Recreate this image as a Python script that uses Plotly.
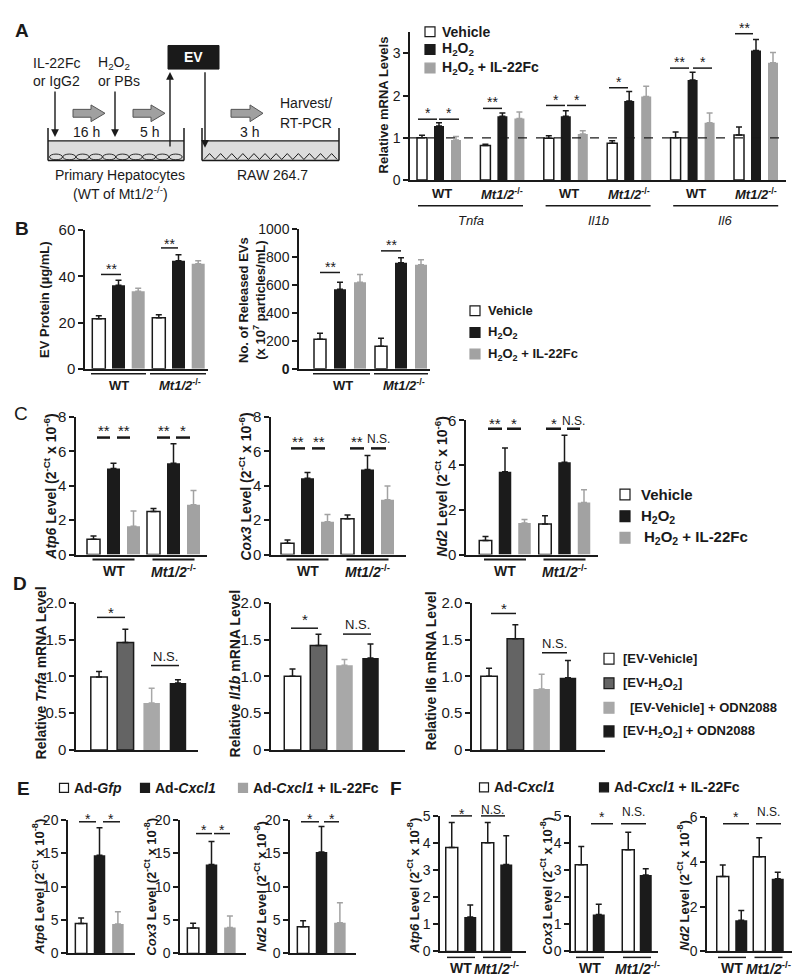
import plotly.graph_objects as go

# ======================= DATA =======================
genotypes = ["WT", "Mt1/2-/-"]
treat3 = ["Vehicle", "H2O2", "H2O2 + IL-22Fc"]

# Panel A: RAW 264.7 cytokine mRNA
a_genes = ["Tnfa", "Il1b", "Il6"]
a_groups = ["Tnfa WT", "Tnfa Mt1/2-/-", "Il1b WT", "Il1b Mt1/2-/-", "Il6 WT", "Il6 Mt1/2-/-"]
a_vehicle = [1.00, 0.82, 0.99, 0.87, 1.00, 1.07]
a_vehicle_err = [0.06, 0.03, 0.06, 0.06, 0.14, 0.19]
a_h2o2 = [1.28, 1.51, 1.51, 1.87, 2.37, 3.07]
a_h2o2_err = [0.08, 0.08, 0.13, 0.23, 0.18, 0.26]
a_il22 = [0.95, 1.46, 1.09, 1.98, 1.36, 2.78]
a_il22_err = [0.08, 0.15, 0.08, 0.24, 0.23, 0.24]

# Panel B
b_prot_vehicle = [21.7, 22.1]; b_prot_vehicle_err = [1.3, 1.3]
b_prot_h2o2 = [36.2, 46.8];    b_prot_h2o2_err = [2.1, 2.6]
b_prot_il22 = [33.6, 45.5];    b_prot_il22_err = [1.3, 1.3]
b_ev_vehicle = [211, 162];     b_ev_vehicle_err = [43, 56]
b_ev_h2o2 = [570, 760];        b_ev_h2o2_err = [50, 36]
b_ev_il22 = [620, 746];        b_ev_il22_err = [56, 36]

# Panel C (2^-Ct x 10^-6)
c_atp6_vehicle = [0.88, 2.50]; c_atp6_vehicle_err = [0.20, 0.18]
c_atp6_h2o2 = [5.00, 5.30];    c_atp6_h2o2_err = [0.30, 1.14]
c_atp6_il22 = [1.65, 2.90];    c_atp6_il22_err = [0.88, 0.82]
c_cox3_vehicle = [0.65, 2.08]; c_cox3_vehicle_err = [0.20, 0.22]
c_cox3_h2o2 = [4.43, 4.95];    c_cox3_h2o2_err = [0.34, 0.80]
c_cox3_il22 = [1.90, 3.18];    c_cox3_il22_err = [0.42, 0.80]
c_nd2_vehicle = [0.63, 1.36];  c_nd2_vehicle_err = [0.18, 0.37]
c_nd2_h2o2 = [3.70, 4.13];     c_nd2_h2o2_err = [1.06, 1.20]
c_nd2_il22 = [1.41, 2.33];     c_nd2_il22_err = [0.16, 0.57]

# Panel D
d_series = ["[EV-Vehicle]", "[EV-H2O2]", "[EV-Vehicle] + ODN2088", "[EV-H2O2] + ODN2088"]
d_tnfa = [0.99, 1.46, 0.64, 0.91]; d_tnfa_err = [0.075, 0.18, 0.20, 0.045]
d_il1b = [1.00, 1.42, 1.15, 1.25]; d_il1b_err = [0.10, 0.15, 0.08, 0.19]
d_il6 = [1.00, 1.51, 0.83, 0.98];  d_il6_err = [0.11, 0.19, 0.20, 0.235]

# Panel E (2^-Ct x 10^-8)
e_series = ["Ad-Gfp", "Ad-Cxcl1", "Ad-Cxcl1 + IL-22Fc"]
e_atp6 = [4.5, 14.7, 4.4];  e_atp6_err = [0.8, 4.1, 1.85]
e_cox3 = [3.8, 13.3, 3.9];  e_cox3_err = [0.73, 3.45, 1.7]
e_nd2 = [4.0, 15.2, 4.6];   e_nd2_err = [0.88, 3.8, 3.0]

# Panel F (2^-Ct x 10^-8)
f_series = ["Ad-Cxcl1", "Ad-Cxcl1 + IL-22Fc"]
f_atp6_cxcl1 = [3.83, 4.01]; f_atp6_cxcl1_err = [0.93, 0.75]
f_atp6_il22 = [1.27, 3.21];  f_atp6_il22_err = [0.44, 1.06]
f_cox3_cxcl1 = [3.20, 3.75]; f_cox3_cxcl1_err = [0.67, 0.65]
f_cox3_il22 = [1.36, 2.82];  f_cox3_il22_err = [0.38, 0.23]
f_nd2_cxcl1 = [3.34, 4.22];  f_nd2_cxcl1_err = [0.51, 0.85]
f_nd2_il22 = [1.39, 3.24];   f_nd2_il22_err = [0.44, 0.29]

# ======================= STYLE / LAYOUT HELPERS =======================
W, H = 800, 979
FONT = "Liberation Sans, Arial, sans-serif"
NARROW = "Liberation Sans Narrow, Arial Narrow, Liberation Sans, sans-serif"
INK = "#1a1a1a"
WHITE = "#ffffff"
BLACK = "#1b1b1b"
GRAY = "#a2a2a2"
DGRAY = "#646464"
LGRAY = "#a8a8a8"

fig = go.Figure()
shapes, annots = [], []


def X(px):
    return px / W


def Y(py):
    return 1 - py / H


def line(x0, y0, x1, y1, w=1.5, color=INK, dash="solid"):
    shapes.append(dict(type="line", xref="paper", yref="paper", x0=X(x0), y0=Y(y0),
                       x1=X(x1), y1=Y(y1), line=dict(color=color, width=w, dash=dash)))


def rect(x0, y0, x1, y1, fill, lc=INK, lw=1.2):
    shapes.append(dict(type="rect", xref="paper", yref="paper", x0=X(x0), y0=Y(y0),
                       x1=X(x1), y1=Y(y1), fillcolor=fill, line=dict(color=lc, width=lw)))


def path(points, fill=None, lc=INK, lw=1.2, close=True):
    d = "M " + " L ".join(f"{X(x):.5f},{Y(y):.5f}" for x, y in points)
    if close:
        d += " Z"
    s = dict(type="path", xref="paper", yref="paper", path=d, line=dict(color=lc, width=lw))
    if fill:
        s["fillcolor"] = fill
    shapes.append(s)


def ellipse(x0, y0, x1, y1, lc=INK, lw=1.0):
    shapes.append(dict(type="circle", xref="paper", yref="paper", x0=X(x0), y0=Y(y0),
                       x1=X(x1), y1=Y(y1), line=dict(color=lc, width=lw)))


def text(x, y, s, size=13, family=FONT, color=INK, xa="center", ya="middle", angle=0):
    annots.append(dict(x=X(x), y=Y(y), xref="paper", yref="paper", text=s, showarrow=False,
                       xanchor=xa, yanchor=ya, textangle=angle,
                       font=dict(family=family, size=size, color=color)))


def arrow(xh, yh, xt, yt):
    annots.append(dict(x=X(xh), y=Y(yh), xref="paper", yref="paper", ax=xt - xh, ay=yt - yh,
                       text="", showarrow=True, arrowhead=2, arrowsize=1.1, arrowwidth=1.4,
                       arrowcolor=INK))


def sig(x0, x1, yl, label, yt, lw=1.5, size=14, family=FONT, ns_size=None):
    line(x0, yl, x1, yl, w=lw)
    star = "*" in label
    off = 4 if star else 1
    fs = size if star else (ns_size or size - 2)
    text((x0 + x1) / 2, yt + off, label, size=fs, family=family)


def ser(name, y, err, fill, lc, lw, ec):
    return dict(name=name, y=y, err=err, fill=fill, line=lc, lw=lw, ec=ec)


def add_bars(i, cats, series, g):
    xa = "x" if i == 1 else f"x{i}"
    ya = "y" if i == 1 else f"y{i}"
    key = "" if i == 1 else str(i)
    n = len(series)
    unit = g["step"]
    for k, s in enumerate(series):
        c = (k - (n - 1) / 2) * g["pitch"]
        fig.add_trace(go.Bar(
            x=cats, y=s["y"], name=s["name"], xaxis=xa, yaxis=ya,
            width=g["bw"] / unit, offset=(c - g["bw"] / 2) / unit,
            marker=dict(color=s["fill"], line=dict(color=s["line"], width=s["lw"])),
            error_y=dict(type="data", symmetric=False, array=s["err"],
                         arrayminus=[0] * len(s["y"]), color=s["ec"], thickness=1.5, width=3),
            showlegend=False, hoverinfo="skip"))
    r0 = (g["left"] - g["c0"]) / unit
    r1 = (g["right"] - g["c0"]) / unit
    fig.layout[f"xaxis{key}"] = dict(
        domain=[X(g["left"]), X(g["right"])], anchor=ya, type="category",
        categoryorder="array", categoryarray=cats, range=[r0, r1],
        showline=True, linecolor=INK, linewidth=1.5, ticks="", showticklabels=False,
        showgrid=False, zeroline=False, fixedrange=True)
    fig.layout[f"yaxis{key}"] = dict(
        domain=[Y(g["y0"]), Y(g["ytop"])], anchor=xa, range=[0, g["ymax"]],
        tickmode="array", tickvals=g["tv"], ticktext=g["tt"],
        tickfont=dict(family=g.get("font", FONT), size=g.get("fs", 14), color=INK),
        showline=True, linecolor=INK, linewidth=1.5, ticks="outside", ticklen=5,
        tickwidth=1.5, tickcolor=INK, showgrid=False, zeroline=False, fixedrange=True)


def three(vals, errs):
    (v0, v1, v2), (e0, e1, e2) = vals, errs
    return [ser(treat3[0], v0, e0, WHITE, INK, 1.5, INK),
            ser(treat3[1], v1, e1, BLACK, BLACK, 0, INK),
            ser(treat3[2], v2, e2, GRAY, GRAY, 0, GRAY)]


MT = "<i>Mt1/2</i><sup>-/-</sup>"
H2O2 = "H<sub>2</sub>O<sub>2</sub>"

# ======================= PANEL A =======================
text(14, 14, "<b>A</b>", size=19)
# schematic
text(23, 47, "IL-22Fc", 14, xa="left"); text(23, 65, "or IgG2", 14, xa="left")
text(88, 47, H2O2, 14, xa="left"); text(88, 65, "or PBs", 14, xa="left")
text(270, 88, "Harvest/", 14, xa="left"); text(270, 108, "RT-PCR", 14, xa="left")
text(78, 117, "16 h", 14); text(141, 117, "5 h", 14); text(241, 117, "3 h", 14)
text(112, 161, "Primary Hepatocytes", 14)
text(112, 179, "(WT of Mt1/2<sup>-/-</sup>)", 14)
text(264, 161, "RAW 264.7", 14)
rect(160, 29, 211, 53, INK, INK, 1)
text(185.5, 41, "<b>EV</b>", 14, color="#ffffff")
arrow(47, 122, 47, 75)
arrow(107, 122, 107, 75)
arrow(162, 56, 162, 132)
arrow(197, 133, 197, 56)
for xs, xh, xe in [(65, 83, 97), (125, 143, 157), (223, 242, 255)]:
    yc = 98
    path([(xs, yc - 4), (xh, yc - 4), (xh, yc - 8.5), (xe, yc), (xh, yc + 8.5),
          (xh, yc + 4), (xs, yc + 4)], fill="#a0a0a0", lc="#555555", lw=1)
for dx0, dx1 in [(40, 176), (194, 331)]:
    rect(dx0, 126, dx1, 146, "#dcdcdc", "#dcdcdc", 0)
    line(dx0, 126, dx1, 126, w=1.2)
    line(dx0, 113, dx0, 146, w=1.5)
    line(dx1, 113, dx1, 146, w=1.5)
    line(dx0, 146, dx1, 146, w=1.5)
for k in range(10):
    ex = 41.5 + k * 13.3
    ellipse(ex, 139.5, ex + 13.0, 145.3, lw=0.9)
zz = []
for k in range(12):
    tx = 196 + k * 11.1
    zz += [(tx, 145), (tx + 5.55, 139)]
zz.append((196 + 12 * 11.1, 145))
path(zz, lc=INK, lw=1, close=False)

gA = dict(left=402, right=778, y0=166, ytop=15.5, ymax=3.5, c0=431, step=63.4, pitch=17,
          bw=10, tv=[0, 1, 2, 3], tt=["0", "1", "2", "3"], fs=14)
add_bars(1, a_groups, three([a_vehicle, a_h2o2, a_il22],
                            [a_vehicle_err, a_h2o2_err, a_il22_err]), gA)
shapes.append(dict(type="line", xref="paper", yref="y", x0=X(402), x1=X(778), y0=1, y1=1,
                   line=dict(color=INK, width=1.3, dash="dash")))
text(375, 90, "<b>Relative mRNA Levels</b>", 13, angle=-90)
for k, gname in enumerate(a_groups):
    cx = 431 + k * 63.4
    text(cx + (3 if k % 2 == 0 else 0), 180, "<b>WT</b>" if k % 2 == 0 else "<b>" + MT + "</b>", 13)
for k, gene in enumerate(a_genes):
    x0 = 410 + k * 127.6
    line(x0, 192, x0 + 105, 192, w=1.5)
    text(x0 + 52.5, 207, f"<i>{gene}</i>", 13)
for x0, x1, yl, lab, yt in [(410, 429, 104, "*", 94), (431, 451, 104, "*", 94),
                            (475, 494, 93, "**", 82), (538, 557, 90, "*", 80),
                            (559, 578, 90, "*", 80), (601, 620, 72, "*", 62),
                            (662, 681, 52, "**", 42), (685, 704, 52, "*", 42),
                            (727, 745, 17, "**", 7)]:
    sig(x0, x1, yl, lab, yt)
for yy, fill, lab in [(15, WHITE, "Vehicle"), (33, BLACK, H2O2), (52, GRAY, H2O2 + " + IL-22Fc")]:
    rect(417, yy - 5, 427, yy + 5, fill, INK if fill == WHITE else fill, 1.2)
    text(432, yy, f"<b>{lab}</b>", 14, xa="left")

# ======================= PANEL B =======================
text(14, 215, "<b>B</b>", size=19)
gBl = dict(left=77, right=200, y0=358, ytop=217, ymax=60, c0=110.5, step=60, pitch=19.7,
           bw=13, tv=[0, 20, 40, 60], tt=["0", "20", "40", "60"], fs=15)
add_bars(2, genotypes, three([b_prot_vehicle, b_prot_h2o2, b_prot_il22],
                             [b_prot_vehicle_err, b_prot_h2o2_err, b_prot_il22_err]), gBl)
gBr = dict(left=291, right=422, y0=358, ytop=216, ymax=1000, c0=332, step=61, pitch=20,
           bw=12, tv=[0, 200, 400, 600, 800, 1000],
           tt=["<b>0</b>", "200", "400", "600", "800", "1000"], fs=14)
add_bars(3, genotypes, three([b_ev_vehicle, b_ev_h2o2, b_ev_il22],
                             [b_ev_vehicle_err, b_ev_h2o2_err, b_ev_il22_err]), gBr)
text(37, 288, "<b>EV Protein (µg/mL)</b>", 13, angle=-90)
text(244, 288, "<b>No. of Released EVs<br>(x 10<sup>7</sup> particles/mL)</b>", 13, angle=-90)
for (a0, a1) in [(83, 138), (142, 198), (305, 362), (366, 420)]:
    line(a0, 363, a1, 363, w=1.5)
for cx, lab in [(110.5, "WT"), (172, MT), (335, "WT"), (396, MT)]:
    text(cx, 375, f"<b>{lab}</b>", 13)
for x0, x1, yl, lab, yt in [(93, 113, 262, "**", 252), (153, 170, 235, "**", 227),
                            (312, 332, 260, "**", 250), (373, 393, 238, "**", 228)]:
    sig(x0, x1, yl, lab, yt)
for yy, fill, lab in [(299, WHITE, "Vehicle"), (321, BLACK, H2O2), (343, GRAY, H2O2 + " + IL-22Fc")]:
    rect(462, yy - 5, 472, yy + 5, fill, INK if fill == WHITE else fill, 1.2)
    text(478, yy, f"<b>{lab}</b>", 13, xa="left")

# ======================= PANEL C =======================
text(13, 403, "C", size=19, family=NARROW)
base_c = dict(y0=547, step=60, pitch=20, bw=13, font=NARROW, fs=15)
gC1 = dict(base_c, left=68, right=199, ytop=407, ymax=8, c0=105.5,
           tv=[0, 2, 4, 6, 8], tt=["0", "2", "4", "6", "8"])
gC2 = dict(base_c, left=263, right=398, ytop=407, ymax=8, c0=299.5,
           tv=[0, 2, 4, 6, 8], tt=["0", "2", "4", "6", "8"])
gC3 = dict(base_c, left=458, right=590, ytop=410.5, ymax=6, c0=497, step=59.5, pitch=19.5,
           bw=12.5, tv=[0, 2, 4, 6], tt=["0", "2", "4", "6"])
add_bars(4, genotypes, three([c_atp6_vehicle, c_atp6_h2o2, c_atp6_il22],
                             [c_atp6_vehicle_err, c_atp6_h2o2_err, c_atp6_il22_err]), gC1)
add_bars(5, genotypes, three([c_cox3_vehicle, c_cox3_h2o2, c_cox3_il22],
                             [c_cox3_vehicle_err, c_cox3_h2o2_err, c_cox3_il22_err]), gC2)
add_bars(6, genotypes, three([c_nd2_vehicle, c_nd2_h2o2, c_nd2_il22],
                             [c_nd2_vehicle_err, c_nd2_h2o2_err, c_nd2_il22_err]), gC3)
for xc, gene in [(42, "Atp6"), (237, "Cox3"), (433, "Nd2")]:
    text(xc, 478, f"<b><i>{gene}</i> Level (2<sup>-Ct</sup> x 10<sup>-6</sup>)</b>", 14, angle=-90)
for g in (gC1, gC2, gC3):
    for k, lab in enumerate(["WT", MT]):
        cx = g["c0"] + k * g["step"]
        line(cx - 21, 552, cx + 21, 552, w=2)
        text(cx, 564, f"<b>{lab}</b>", 14, family=NARROW)
for x0, x1, yl, lab, yt in [(89, 102, 428, "**", 417), (109, 122, 428, "**", 417),
                            (149, 162, 428, "**", 417), (168, 182, 428, "*", 417),
                            (283, 297, 439, "**", 428), (304, 317, 439, "**", 428),
                            (342, 356, 439, "**", 428), (363, 378, 439, "N.S.", 428),
                            (480, 494, 419, "**", 410), (499, 513, 419, "*", 410),
                            (538, 553, 419, "*", 410), (559, 572, 419, "N.S.", 410)]:
    sig(x0, x1, yl, lab, yt, lw=2.5, size=15, family=NARROW, ns_size=12)
for yy, fill, lab in [(486, WHITE, "Vehicle"), (508, BLACK, H2O2), (530, GRAY, H2O2 + " + IL-22Fc")]:
    rect(612, yy - 5.5, 622, yy + 5.5, fill, INK if fill == WHITE else fill, 1.2)
    text(631 if fill != GRAY else 634, yy, f"<b>{lab}</b>", 15, family=NARROW, xa="left")

# ======================= PANEL D =======================
text(12, 577, "<b>D</b>", size=19)
base_d = dict(y0=746, ytop=596, ymax=2, step=100, pitch=26.3, bw=16.5, font=NARROW, fs=15,
              tv=[0, 0.5, 1, 1.5, 2], tt=["0", "0.5", "1.0", "1.5", "2.0"])


def four(vals, errs):
    fills = [(WHITE, INK, 1.5, INK), (DGRAY, INK, 1.5, INK), (LGRAY, LGRAY, 0, LGRAY),
             (BLACK, BLACK, 0, INK)]
    return [ser(d_series[k], [vals[k]], [errs[k]], *fills[k]) for k in range(4)]


add_bars(7, ["Tnfa"], four(d_tnfa, d_tnfa_err), dict(base_d, left=68, right=190, c0=130.5))
add_bars(8, ["Il1b"], four(d_il1b, d_il1b_err), dict(base_d, left=263, right=397, c0=323.5, pitch=26))
add_bars(9, ["Il6"], four(d_il6, d_il6_err), dict(base_d, left=464, right=597, c0=520.5))
text(33, 668, "<b>Relative <i>Tnfa</i> mRNA Level</b>", 14, angle=-90)
text(227, 668, "<b>Relative <i>Il1b</i> mRNA Level</b>", 14, angle=-90)
text(423, 666, "<b>Relative Il6 mRNA Level</b>", 14, angle=-90)
for x0, x1, yl, lab, yt in [(89, 117, 611, "*", 602), (143, 171, 660, "N.S.", 650),
                            (283, 310, 622, "*", 609), (335, 363, 628, "N.S.", 617),
                            (483, 508, 607, "*", 598), (534, 559, 647, "N.S.", 637)]:
    sig(x0, x1, yl, lab, yt, lw=1.5, size=15, family=NARROW, ns_size=13)
d_leg = [(653, WHITE, INK, "[EV-Vehicle]", 613),
         (678, DGRAY, INK, "[EV-H<sub>2</sub>O<sub>2</sub>]", 613),
         (703, LGRAY, LGRAY, "[EV-Vehicle] + ODN2088", 620),
         (727, BLACK, BLACK, "[EV-H<sub>2</sub>O<sub>2</sub>] + ODN2088", 613)]
for yy, fill, lc, lab, tx in d_leg:
    rect(596, yy - 5.5, 606, yy + 5.5, fill, lc, 1.2)
    text(tx, yy, f"<b>{lab}</b>", 13, family=NARROW, xa="left")

# ======================= PANEL E =======================
text(15, 785, "<b>E</b>", size=19)
base_e = dict(y0=953, ytop=817, ymax=20, step=100, pitch=18.4, bw=11.5, fs=14,
              tv=[0, 5, 10, 15, 20], tt=["0", "5", "10", "15", "20"])


def three1(vals, errs):
    fills = [(WHITE, INK, 1.5, INK), (BLACK, BLACK, 0, INK), (GRAY, GRAY, 0, GRAY)]
    return [ser(e_series[k], [vals[k]], [errs[k]], *fills[k]) for k in range(3)]


add_bars(10, ["Atp6"], three1(e_atp6, e_atp6_err), dict(base_e, left=60, right=127, c0=91.5))
add_bars(11, ["Cox3"], three1(e_cox3, e_cox3_err), dict(base_e, left=172, right=238, c0=203.5))
add_bars(12, ["Nd2"], three1(e_nd2, e_nd2_err), dict(base_e, left=282, right=348, c0=313.5))
for xc, gene in [(30, "Atp6"), (142, "Cox3"), (252, "Nd2")]:
    text(xc, 885, f"<b><i>{gene}</i> Level (2<sup>-Ct</sup> x 10<sup>-8</sup>)</b>", 13, angle=-90)
for x0, x1, yl, lab, yt in [(71, 88, 819, "*", 812), (95, 112, 819, "*", 812),
                            (188, 204, 831, "*", 823), (206, 222, 831, "*", 823),
                            (293, 311, 819, "*", 812), (316, 331, 819, "*", 812)]:
    sig(x0, x1, yl, lab, yt)
for sx, fill, lab in [(56, WHITE, "Ad-<i>Gfp</i>"), (137, BLACK, "Ad-<i>Cxcl1</i>"),
                      (235, GRAY, "Ad-<i>Cxcl1</i> + IL-22Fc")]:
    rect(sx - 4.5, 780, sx + 4.5, 789, fill, INK if fill == WHITE else fill, 1.2)
    text(sx + 8, 785, f"<b>{lab}</b>", 14, xa="left")

# ======================= PANEL F =======================
text(388, 785, "<b>F</b>", size=19)
base_f = dict(y0=951, ytop=813, ymax=5, pitch=18.5, bw=12, fs=14,
              tv=[0, 1, 2, 3, 4, 5], tt=["0", "1", "2", "3", "4", "5"])


def two(v0, e0, v1, e1):
    return [ser(f_series[0], v0, e0, WHITE, INK, 1.5, INK),
            ser(f_series[1], v1, e1, BLACK, BLACK, 0, INK)]


gF1 = dict(base_f, left=432, right=518, c0=453, step=36)
gF2 = dict(base_f, left=563, right=650, c0=582, step=47, pitch=17.5)
gF3 = dict(base_f, left=699, right=793, ytop=814, ymax=6, c0=724, step=36.5,
           tv=[0, 2, 4, 6], tt=["0", "2", "4", "6"])
add_bars(13, genotypes, two(f_atp6_cxcl1, f_atp6_cxcl1_err, f_atp6_il22, f_atp6_il22_err), gF1)
add_bars(14, genotypes, two(f_cox3_cxcl1, f_cox3_cxcl1_err, f_cox3_il22, f_cox3_il22_err), gF2)
add_bars(15, genotypes, two(f_nd2_cxcl1, f_nd2_cxcl1_err, f_nd2_il22, f_nd2_il22_err), gF3)
for xc, gene in [(405, "Atp6"), (538, "Cox3"), (675, "Nd2")]:
    text(xc, 884, f"<b><i>{gene}</i> Level (2<sup>-Ct</sup> x 10<sup>-8</sup>)</b>", 13, angle=-90)
for g in (gF1, gF2, gF3):
    for k, lab in enumerate(["WT", MT]):
        cx = g["c0"] + k * g["step"]
        line(cx - 14, 957, cx + 14, 957, w=1.5)
        text(cx, 968, f"<b>{lab}</b>", 14)
for x0, x1, yl, lab, yt in [(443, 464, 813, "*", 807), (473, 497, 813, "N.S.", 806),
                            (583, 605, 821, "*", 810), (613, 638, 821, "N.S.", 808),
                            (715, 741, 821, "*", 810), (748, 773, 821, "N.S.", 808)]:
    sig(x0, x1, yl, lab, yt)
for sx, fill, lab in [(476, WHITE, "Ad-<i>Cxcl1</i>"), (596, BLACK, "Ad-<i>Cxcl1</i> + IL-22Fc")]:
    rect(sx - 4.5, 779.5, sx + 4.5, 788.5, fill, INK if fill == WHITE else fill, 1.2)
    text(sx + 8, 784, f"<b>{lab}</b>", 14, xa="left")

# ======================= FINAL LAYOUT =======================
fig.update_layout(
    width=W, height=H, autosize=False,
    margin=dict(l=0, r=0, t=0, b=0, pad=0),
    paper_bgcolor="#ffffff", plot_bgcolor="rgba(0,0,0,0)",
    showlegend=False, barmode="overlay",
    shapes=shapes, annotations=annots,
    font=dict(family=FONT, color=INK),
)
fig.write_html("out.html")
